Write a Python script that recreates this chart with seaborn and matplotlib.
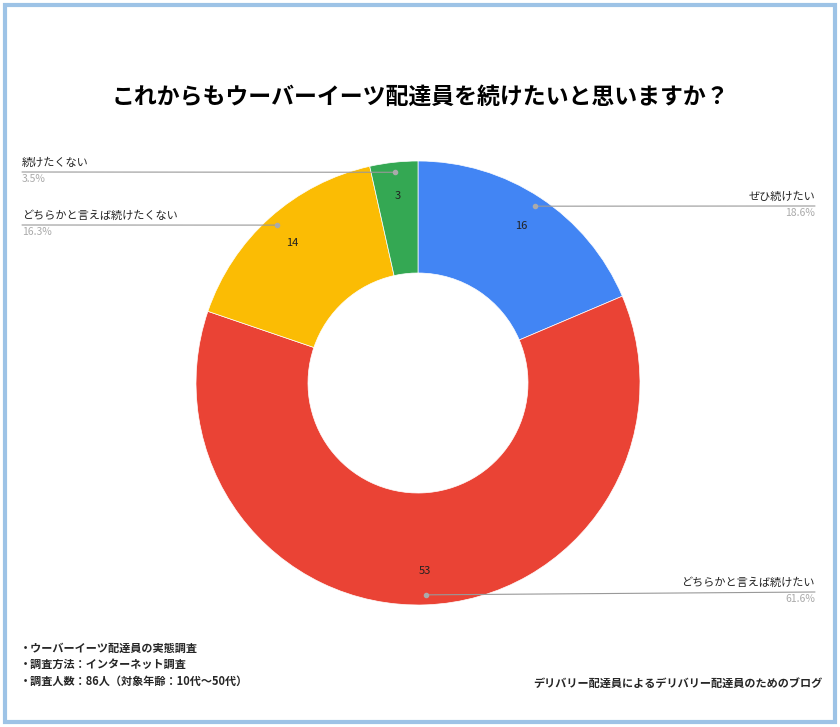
import matplotlib.pyplot as plt
import numpy as np
import seaborn as sns

sns.set_theme(style="white", font="Noto Sans CJK JP")

labels = ["ぜひ続けたい", "どちらかと言えば続けたい", "どちらかと言えば続けたくない", "続けたくない"]
counts = [16, 53, 14, 3]
pcts = ["18.6%", "61.6%", "16.3%", "3.5%"]
colors = ["#4285f4", "#ea4335", "#fbbc04", "#34a853"]
notes = ["・ウーバーイーツ配達員の実態調査", "・調査方法：インターネット調査", "・調査人数：86人（対象年齢：10代〜50代）"]

W, H = 840, 727
fig = plt.figure(figsize=(8.4, 7.27), dpi=100)
ax = fig.add_axes([0, 0, 1, 1])
ax.set_xlim(0, W)
ax.set_ylim(0, H)
ax.axis("off")

cx, cy, R = 418, H - 383, 222
wedges, _ = ax.pie(counts, colors=colors, startangle=90, counterclock=False,
                   center=(cx, cy), radius=R,
                   wedgeprops=dict(width=112, edgecolor="white", linewidth=0.5))
ax.set_xlim(0, W)
ax.set_ylim(0, H)
ax.set_aspect("equal")

# label side (x end, text y in pixel coords)
sides = [("right", 815, 197), ("right", 815, 583), ("left", 22, 216), ("left", 22, 163)]
for w, n, lab, pc, (side, xe, ty) in zip(wedges, counts, labels, pcts, sides):
    ang = np.deg2rad((w.theta1 + w.theta2) / 2)
    ax.text(cx + 188 * np.cos(ang), cy + 188 * np.sin(ang), str(n),
            ha="center", va="center", fontsize=8, color="#222222")
    dx, dy = cx + 212 * np.cos(ang), cy + 212 * np.sin(ang)
    ly = H - (ty + 9)
    ax.plot([dx, xe], [dy, ly], color="#999999", lw=0.8)
    ax.plot(dx, dy, "o", color="#aaaaaa", ms=3)
    ha = "right" if side == "right" else "left"
    ax.text(xe, H - ty, lab, ha=ha, va="center", fontsize=8, color="#222222")
    ax.text(xe, H - ty - 16, pc, ha=ha, va="center", fontsize=7.5, color="#aaaaaa")

ax.text(W / 2, H - 97, "これからもウーバーイーツ配達員を続けたいと思いますか？",
        ha="center", va="center", fontsize=16.5, fontweight="bold", color="black")

for i, t in enumerate(notes):
    ax.text(20, H - (648 + 16.5 * i), t, ha="left", va="center", fontsize=8, fontweight="bold")
ax.text(822, H - 683, "デリバリー配達員によるデリバリー配達員のためのブログ",
        ha="right", va="center", fontsize=8, fontweight="bold")

ax.add_patch(plt.Rectangle((5, 5), W - 10, H - 10, fill=False, edgecolor="#9dc3e6", lw=3))

fig.savefig("out.png", dpi=100)
